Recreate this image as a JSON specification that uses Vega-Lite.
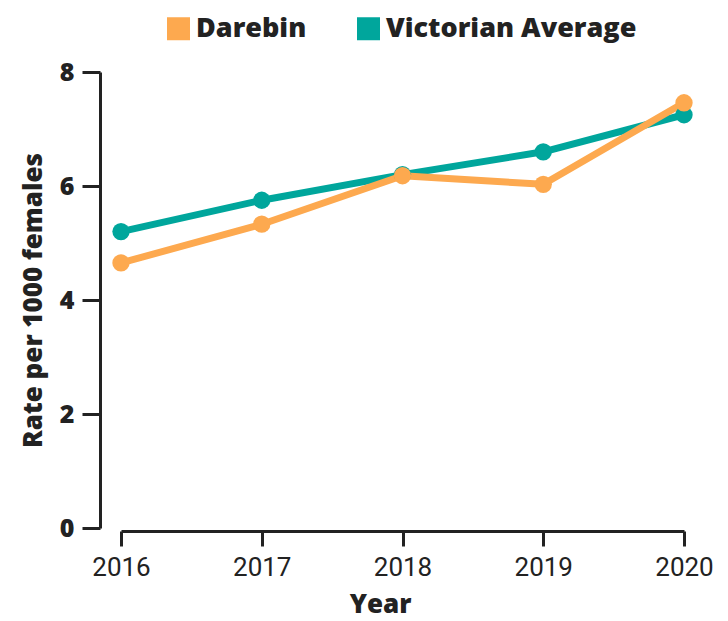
{
  "$schema": "https://vega.github.io/schema/vega-lite/v6.json",
  "width": 563,
  "height": 456,
  "autosize": {"type": "none"},
  "padding": {"left": 121, "top": 72, "right": 44, "bottom": 93},
  "background": "white",
  "config": {
    "view": {"stroke": null},
    "font": "Roboto"
  },
  "data": {
    "values": [
      {"year": "2016", "series": "Victorian Average", "rate": 5.2},
      {"year": "2017", "series": "Victorian Average", "rate": 5.75},
      {"year": "2018", "series": "Victorian Average", "rate": 6.2},
      {"year": "2019", "series": "Victorian Average", "rate": 6.6},
      {"year": "2020", "series": "Victorian Average", "rate": 7.25},
      {"year": "2016", "series": "Darebin", "rate": 4.65},
      {"year": "2017", "series": "Darebin", "rate": 5.33},
      {"year": "2018", "series": "Darebin", "rate": 6.18},
      {"year": "2019", "series": "Darebin", "rate": 6.03},
      {"year": "2020", "series": "Darebin", "rate": 7.46}
    ]
  },
  "encoding": {
    "x": {
      "field": "year",
      "type": "ordinal",
      "scale": {"type": "point", "padding": 0},
      "axis": {
        "title": "Year",
        "titleX": 259,
        "labelAngle": 0,
        "offset": 3,
        "domainColor": "#222222",
        "domainWidth": 3,
        "tickColor": "#222222",
        "tickWidth": 3,
        "tickSize": 15,
        "labelFont": "Roboto",
        "labelFontSize": 26,
        "labelFontWeight": "normal",
        "labelColor": "#222222",
        "labelPadding": 8,
        "titleFont": "Open Sans",
        "titleFontSize": 26,
        "titleFontWeight": 800,
        "titleColor": "#222222",
        "titlePadding": 11,
        "grid": false
      }
    },
    "y": {
      "field": "rate",
      "type": "quantitative",
      "scale": {"domain": [0, 8]},
      "axis": {
        "title": "Rate per 1000 females",
        "values": [0, 2, 4, 6, 8],
        "offset": 21,
        "domainColor": "#222222",
        "domainWidth": 3,
        "tickColor": "#222222",
        "tickWidth": 3,
        "tickSize": 18,
        "labelFont": "Open Sans",
        "labelFontSize": 25,
        "labelFontWeight": 800,
        "labelColor": "#222222",
        "labelPadding": 8,
        "titleFont": "Open Sans",
        "titleFontSize": 26,
        "titleFontWeight": 800,
        "titleColor": "#222222",
        "titlePadding": 13,
        "grid": false
      }
    },
    "color": {
      "field": "series",
      "type": "nominal",
      "scale": {
        "domain": ["Darebin", "Victorian Average"],
        "range": ["#FDA94F", "#00A69C"]
      },
      "legend": {
        "title": null,
        "orient": "none",
        "legendX": 44,
        "legendY": -57,
        "direction": "horizontal",
        "symbolType": "square",
        "symbolSize": 529,
        "symbolStrokeWidth": 0,
        "symbolOpacity": 1,
        "labelFont": "Open Sans",
        "labelFontSize": 27,
        "labelFontWeight": 800,
        "labelColor": "#222222",
        "labelOffset": 4,
        "labelLimit": 0,
        "columnPadding": 48,
        "padding": 0
      }
    }
  },
  "layer": [
    {
      "mark": {"type": "line", "strokeWidth": 7, "strokeCap": "round", "strokeJoin": "round"}
    },
    {
      "mark": {"type": "point", "filled": true, "size": 300, "opacity": 1, "shape": "circle"}
    }
  ]
}
